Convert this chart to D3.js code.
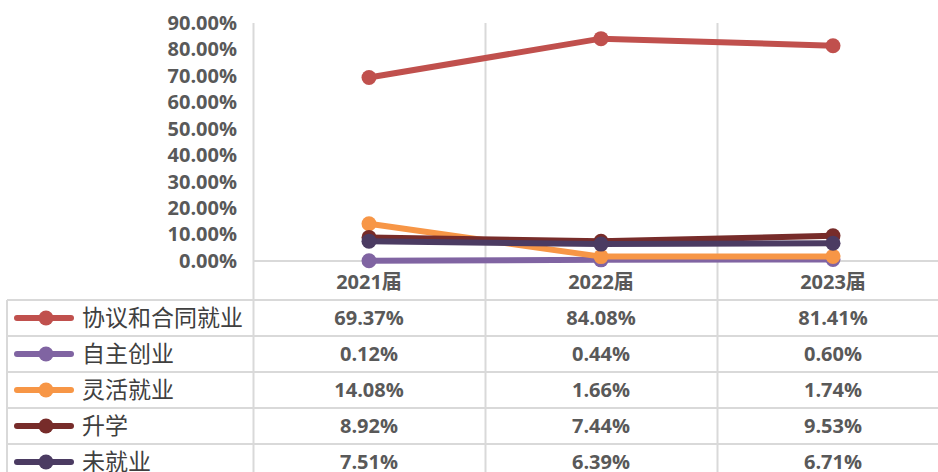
<!DOCTYPE html>
<html lang="en">
<head>
    <meta charset="UTF-8"/>
    <title>就业去向</title>
    <script src="https://d3js.org/d3.v7.min.js"></script>
    <style>
        body { margin: 0; background: #fff; }
    </style>
</head>
<body>
<script>
    var w = 938;
    var h = 472;

    var years = ["2021届", "2022届", "2023届"];
    var seriesNames = ["协议和合同就业", "自主创业", "灵活就业", "升学", "未就业"];
    var agreement = [69.37, 84.08, 81.41];
    var selfEmployed = [0.12, 0.44, 0.60];
    var flexible = [14.08, 1.66, 1.74];
    var furtherStudy = [8.92, 7.44, 9.53];
    var unemployed = [7.51, 6.39, 6.71];
    var yTicks = [0, 10, 20, 30, 40, 50, 60, 70, 80, 90];
    var colors = ["#C0504D", "#8064A2", "#F79646", "#772C2A", "#4B3B62"];

    var allSeries = [agreement, selfEmployed, flexible, furtherStudy, unemployed];

    var plotLeft = 253, plotRight = 949, plotTop = 23, zeroY = 261;
    var tableTop = 300, rowH = 36;

    var xScale = d3.scaleBand()
                   .domain(years)
                   .range([plotLeft, plotRight]);

    var yScale = d3.scaleLinear()
                   .domain([0, 90])
                   .range([zeroY, plotTop]);

    var svg = d3.select("body")
                .append("svg")
                .attr("width", w)
                .attr("height", h);

    var gridColor = "#d9d9d9";
    var numFont = "'Open Sans', Lato, sans-serif";

    // vertical lines (plot + table)
    svg.selectAll("line.vgrid")
       .data(years)
       .enter()
       .append("line")
       .attr("x1", function(d){ return Math.round(xScale(d)) + 0.5; })
       .attr("x2", function(d){ return Math.round(xScale(d)) + 0.5; })
       .attr("y1", plotTop)
       .attr("y2", h)
       .attr("stroke", gridColor)
       .attr("stroke-width", 2);

    // baseline at 0
    svg.append("line")
       .attr("x1", plotLeft).attr("x2", w)
       .attr("y1", yScale(0)).attr("y2", yScale(0))
       .attr("stroke", gridColor).attr("stroke-width", 2);

    // y axis
    var yAxis = d3.axisLeft(yScale)
                  .tickValues(yTicks)
                  .tickSize(0)
                  .tickPadding(16)
                  .tickFormat(function(d){ return d.toFixed(2) + "%"; });

    var gy = svg.append("g")
                .attr("transform", "translate(" + plotLeft + ",0)")
                .call(yAxis);
    gy.select(".domain").remove();
    gy.selectAll("text")
      .attr("font-family", numFont)
      .attr("font-weight", "bold")
      .attr("font-size", 20)
      .attr("fill", "#595959");

    // header labels
    svg.selectAll("text.year")
       .data(years)
       .enter()
       .append("text")
       .attr("x", function(d){ return xScale(d) + xScale.bandwidth() / 2; })
       .attr("y", 289)
       .attr("text-anchor", "middle")
       .attr("font-family", numFont + ", 'Noto Sans CJK SC'")
       .attr("font-weight", "bold")
       .attr("font-size", 20)
       .attr("fill", "#595959")
       .text(function(d){ return d; });

    // table rows
    for (var r = 0; r <= seriesNames.length; r++) {
        svg.append("line")
           .attr("x1", 7).attr("x2", w)
           .attr("y1", tableTop + r * rowH).attr("y2", tableTop + r * rowH)
           .attr("stroke", gridColor).attr("stroke-width", 2);
    }
    svg.append("line")
       .attr("x1", 7).attr("x2", 7)
       .attr("y1", tableTop).attr("y2", h)
       .attr("stroke", gridColor).attr("stroke-width", 2);

    var line = d3.line()
                 .x(function(d, i){ return xScale(years[i]) + xScale.bandwidth() / 2; })
                 .y(function(d){ return yScale(d); });

    allSeries.forEach(function(values, s) {
        var rowMid = tableTop + s * rowH + rowH / 2;

        // chart line + markers
        svg.append("path")
           .datum(values)
           .attr("d", line)
           .attr("fill", "none")
           .attr("stroke", colors[s])
           .attr("stroke-width", 6)
           .attr("stroke-linecap", "round");

        svg.selectAll("circle.s" + s)
           .data(values)
           .enter()
           .append("circle")
           .attr("cx", function(d, i){ return xScale(years[i]) + xScale.bandwidth() / 2; })
           .attr("cy", function(d){ return yScale(d); })
           .attr("r", 7.5)
           .attr("fill", colors[s]);

        // legend key
        svg.append("line")
           .attr("x1", 17).attr("x2", 71)
           .attr("y1", rowMid).attr("y2", rowMid)
           .attr("stroke", colors[s]).attr("stroke-width", 6)
           .attr("stroke-linecap", "round");
        svg.append("circle")
           .attr("cx", 46).attr("cy", rowMid).attr("r", 7.5)
           .attr("fill", colors[s]);

        svg.append("text")
           .attr("x", 82)
           .attr("y", rowMid + 8)
           .attr("font-family", "'Noto Sans CJK SC', sans-serif")
           .attr("font-size", 23)
           .attr("fill", "#404040")
           .text(seriesNames[s]);

        // values
        svg.selectAll("text.v" + s)
           .data(values)
           .enter()
           .append("text")
           .attr("x", function(d, i){ return xScale(years[i]) + xScale.bandwidth() / 2; })
           .attr("y", rowMid + 7)
           .attr("text-anchor", "middle")
           .attr("font-family", numFont)
           .attr("font-weight", "bold")
           .attr("font-size", 20)
           .attr("fill", "#595959")
           .text(function(d){ return d.toFixed(2) + "%"; });
    });
</script>
</body>
</html>
